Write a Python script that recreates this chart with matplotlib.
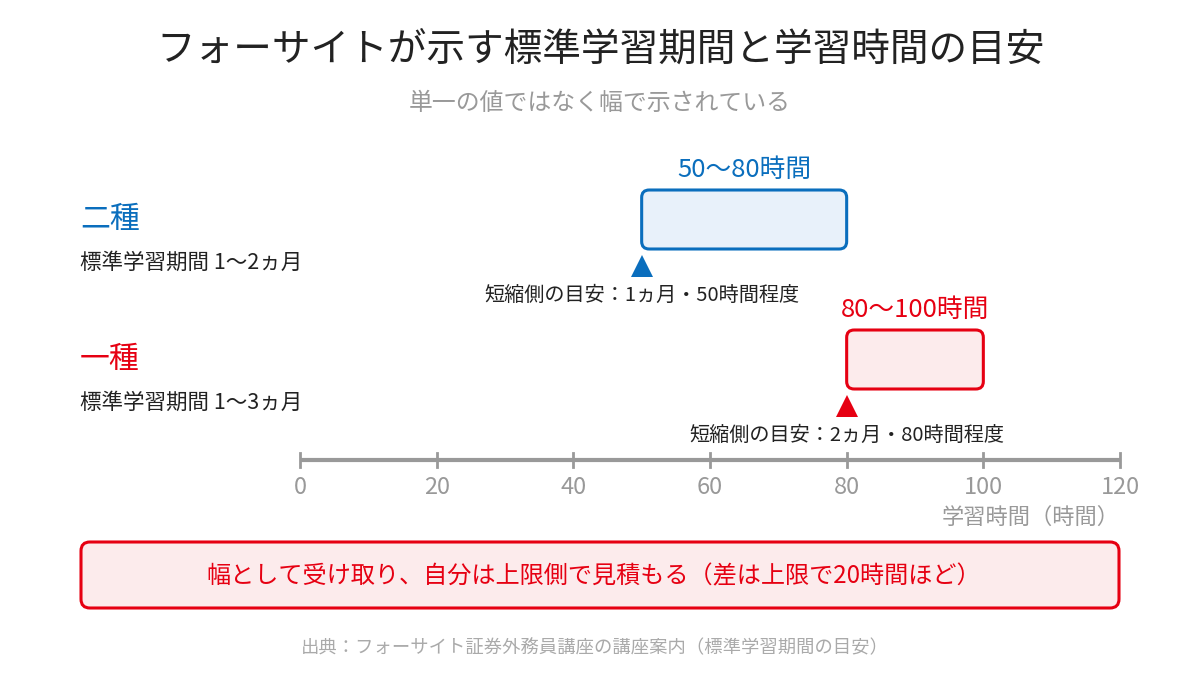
import matplotlib.pyplot as plt
from matplotlib.patches import FancyBboxPatch

plt.rcParams['font.family'] = ['Noto Sans CJK JP', 'DejaVu Sans']

# data
courses = ['二種', '一種']
periods = ['標準学習期間 1〜2ヵ月', '標準学習期間 1〜3ヵ月']
hours_low = [50, 80]
hours_high = [80, 100]
short_notes = ['短縮側の目安：1ヵ月・50時間程度', '短縮側の目安：2ヵ月・80時間程度']
ticks = [0, 20, 40, 60, 80, 100, 120]

colors = ['#0a6ebd', '#e60012']
fills = ['#e8f1fa', '#fcebec']

W, H = 1200, 690
fig = plt.figure(figsize=(W / 100, H / 100), dpi=100)
ax = fig.add_axes([0, 0, 1, 1])
# x: hours (0 at 300px, 120 at 1120px), y: pixels from top
px = 820 / 120.0
ax.set_xlim(-300 / px, 120 + 80 / px)
ax.set_ylim(H, 0)
ax.axis('off')

def xp(p):
    # pixel -> x data
    return (p - 300) / px

ax.text(xp(601), 50, 'フォーサイトが示す標準学習期間と学習時間の目安', ha='center', va='center',
        fontsize=27.8, color='#222222')
ax.text(xp(600), 104, '単一の値ではなく幅で示されている', ha='center', va='center',
        fontsize=17.2, color='#999999')

box_top = [190, 330]
box_h = 59
for i in range(2):
    c = colors[i]
    box = FancyBboxPatch((hours_low[i], box_top[i]), hours_high[i] - hours_low[i], box_h,
                         boxstyle='round,pad=0,rounding_size=1.1', mutation_aspect=px,
                         facecolor=fills[i], edgecolor=c, linewidth=2.2)
    ax.add_patch(box)
    ax.text((hours_low[i] + hours_high[i]) / 2, box_top[i] - 20,
            f'{hours_low[i]}〜{hours_high[i]}時間', ha='center', va='center',
            fontsize=18.5, color=c)
    ax.plot(hours_low[i], box_top[i] + 76, marker='^', markersize=16, color=c,
            markeredgewidth=0)
    ax.text(hours_low[i], box_top[i] + 105, short_notes[i], ha='center', va='center',
            fontsize=14.5, color='#222222')
    ax.text(xp(80), box_top[i] + 29, courses[i], ha='left', va='center',
            fontsize=21.5, color=c)
    ax.text(xp(80), box_top[i] + 73, periods[i], ha='left', va='center',
            fontsize=15.5, color='#222222')

# axis
ax.plot([0, 120], [460, 460], color='#999999', linewidth=3, solid_capstyle='butt')
for t in ticks:
    ax.plot([t, t], [453, 467], color='#999999', linewidth=2)
    ax.text(t, 488, str(t), ha='center', va='center', fontsize=17, color='#999999')
ax.text(xp(1120), 517, '学習時間（時間）', ha='right', va='center', fontsize=16, color='#999999')

# bottom note
note = FancyBboxPatch((xp(81), 542), xp(1119) - xp(81), 66,
                      boxstyle='round,pad=0,rounding_size=1.3', mutation_aspect=px,
                      facecolor='#fcebec', edgecolor='#e60012', linewidth=2.2)
ax.add_patch(note)
ax.text(xp(594), 576, '幅として受け取り、自分は上限側で見積もる（差は上限で20時間ほど）',
        ha='center', va='center', fontsize=17.4, color='#e60012')

ax.text(xp(595), 648, '出典：フォーサイト証券外務員講座の講座案内（標準学習期間の目安）',
        ha='center', va='center', fontsize=13.2, color='#aaaaaa')

fig.savefig('out.png', dpi=100, facecolor='white')
